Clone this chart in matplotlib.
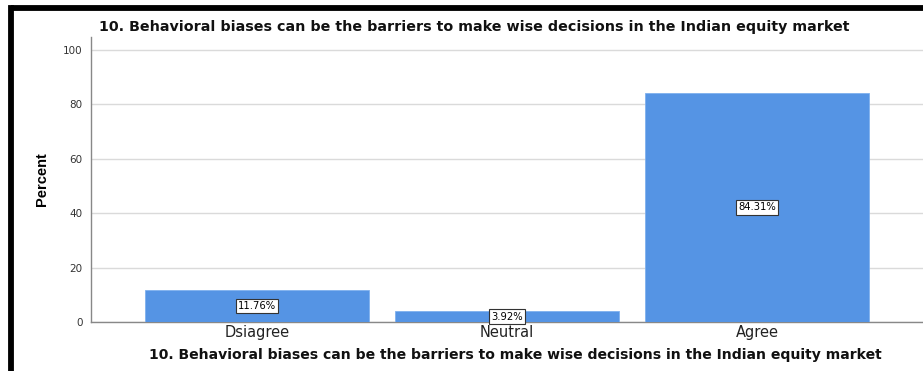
import matplotlib
matplotlib.use("Agg")
import matplotlib.pyplot as plt
from matplotlib.lines import Line2D

categories = ["Dsiagree", "Neutral", "Agree"]
percents = [11.76, 3.92, 84.31]
yticks = [0, 20, 40, 60, 80, 100]
title = "10. Behavioral biases can be the barriers to make wise decisions in the Indian equity market"

plt.rcParams['font.family'] = ['DejaVu Sans']

W, H = 923, 371
fig = plt.figure(figsize=(W / 100, H / 100), dpi=100)
fig.patch.set_facecolor('white')

ax = fig.add_axes([91 / W, 1 - 322 / H, (W - 91) / W, (322 - 37) / H])
x = list(range(len(categories)))
ax.bar(x, percents, width=0.896, color='#5594E4', edgecolor='#7FB0EE', linewidth=0.6, zorder=3)
ax.set_xlim(-0.664, 2.664)
ax.set_ylim(0, 104.8)
ax.set_yticks(yticks)
ax.set_yticklabels([str(t) for t in yticks], fontsize=7.5, color='#333333')
ax.set_xticks(x)
ax.set_xticklabels(categories, fontsize=10.5, color='#222222')
ax.tick_params(axis='both', length=0, pad=6)
ax.tick_params(axis='x', pad=2)
ax.grid(axis='y', color='#DADADA', linewidth=1.0, zorder=0)
for s in ['top', 'right']:
    ax.spines[s].set_visible(False)
for s in ['left', 'bottom']:
    ax.spines[s].set_color('#888888')
    ax.spines[s].set_linewidth(1.0)

for xi, v in zip(x, percents):
    ax.text(xi, v / 2, f"{v:.2f}%", ha='center', va='center', fontsize=7.2, color='black',
            zorder=5,
            bbox=dict(boxstyle='square,pad=0.22', facecolor='white', edgecolor='#333333', linewidth=0.8))

ax.set_ylabel("Percent", family=['Liberation Sans Narrow', 'Liberation Sans', 'DejaVu Sans'],
              fontweight='bold', fontsize=10.5)
ax.yaxis.set_label_coords((49 - 91) / (W - 91), 0.5)

fig.text(474 / W, 1 - 27 / H, title, ha='center', va='center', fontsize=10.3,
         fontweight='bold', color='#111111')
fig.text(515 / W, 1 - 355 / H, title, ha='center', va='center', fontsize=10.1,
         fontweight='bold', color='#111111')

# screenshot frame border
fig.add_artist(Line2D([10.5 / W, 10.5 / W], [0, 1 - 7.5 / H], transform=fig.transFigure,
                      color='black', linewidth=4.2, solid_capstyle='projecting'))
fig.add_artist(Line2D([10.5 / W, 1.0], [1 - 7.5 / H, 1 - 7.5 / H], transform=fig.transFigure,
                      color='black', linewidth=4.2, solid_capstyle='butt'))

fig.savefig("out.png", dpi=100)
